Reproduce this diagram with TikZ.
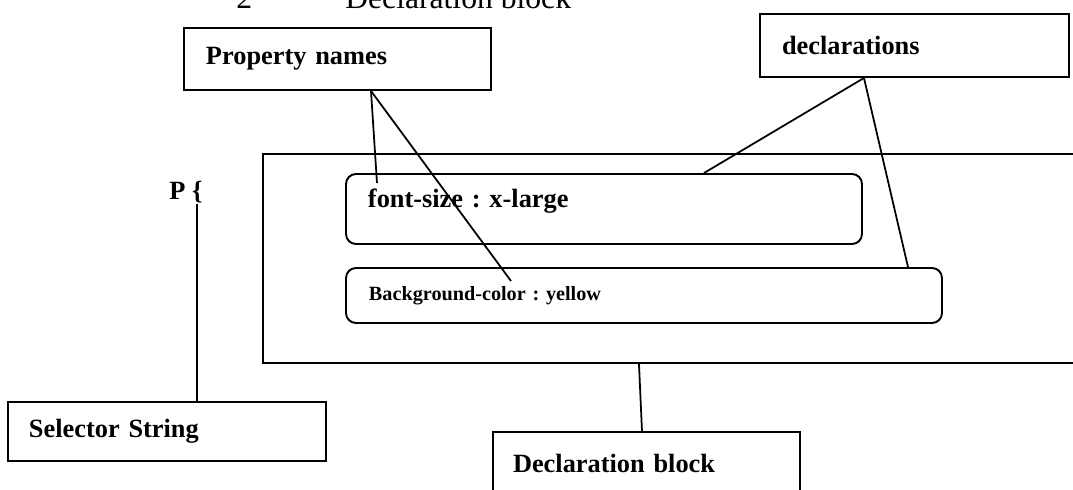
\documentclass[tikz,border=0pt]{standalone}
\usepackage{fontspec}
\setmainfont{Liberation Serif}
\frenchspacing
\begin{document}
\begin{tikzpicture}[scale=0.2,
tagbox/.style={draw=black, line width=1.1pt, rectangle, inner ysep=0pt, align=left, font=\fontsize{15}{18}\selectfont\bfseries},
declbox/.style={tagbox, rounded corners=0.2cm},
link/.style={draw=black, line width=1pt}]
\useasboundingbox (0,0) rectangle (107.3,-49);
\clip (0,0) rectangle (107.3,-49);
\node [anchor=base west, inner sep=0pt, font=\fontsize{18}{22}\selectfont] (secnum) at (23.6,-0.9) {2};
\node [anchor=base west, inner sep=0pt, font=\fontsize{18}{22}\selectfont] (sectitle) at (34.5,-0.9) {Declaration block};
\node [tagbox, minimum width=6.14cm, minimum height=1.24cm, text width=5.26cm, inner xsep=0.44cm] (propnames) at (33.75,-5.9) {Property names};
\node [tagbox, minimum width=6.18cm, minimum height=1.26cm, text width=5.30cm, inner xsep=0.44cm] (decls) at (91.45,-4.55) {declarations};
\node [draw=black, line width=1.2pt, minimum width=16.74cm, minimum height=4.18cm] (blockarea) at (68.15,-25.85) {};
\node [declbox, minimum width=10.32cm, minimum height=1.4cm, text width=9.44cm, inner xsep=0.44cm, text depth=0.45cm] (fontsize) at (60.4,-20.9) {font-size : x-large};
\node [declbox, minimum width=11.92cm, minimum height=1.1cm, text width=11.0cm, inner xsep=0.46cm, font=\fontsize{11.5}{14}\selectfont\bfseries] (bgcolor) at (64.4,-29.55) {Background-color : yellow};
\node [anchor=base west, inner sep=0pt, font=\fontsize{15}{18}\selectfont\bfseries] (pbrace) at (16.9,-20.0) {P \{};
\node [tagbox, minimum width=6.36cm, minimum height=1.18cm, text width=5.52cm, inner xsep=0.42cm] (selector) at (16.7,-43.15) {Selector String};
\node [tagbox, minimum width=6.14cm, minimum height=1.24cm, text width=5.34cm, inner xsep=0.40cm] (blockname) at (64.65,-46.3) {Declaration block};
\coordinate (pnA) at (37.7,-18.3);
\coordinate (pnB) at (51.1,-28.1);
\coordinate (bracefoot) at ([xshift=-0.6cm]pbrace.south east);
\draw [link] ([xshift=3.35cm]propnames.south) -- (pnA);
\draw [link] ([xshift=3.35cm]propnames.south) -- (pnB);
\draw [link] ([xshift=-5.05cm]decls.south) -- ([xshift=10cm]fontsize.north);
\draw [link] ([xshift=-5.05cm]decls.south) -- ([xshift=26.4cm]bgcolor.north);
\draw [link] ([xshift=-4.25cm]blockarea.south) -- ([xshift=-0.45cm]blockname.north);
\draw [link, line width=1.2pt] (bracefoot) -- (bracefoot |- selector.north);
\end{tikzpicture}
\end{document}
